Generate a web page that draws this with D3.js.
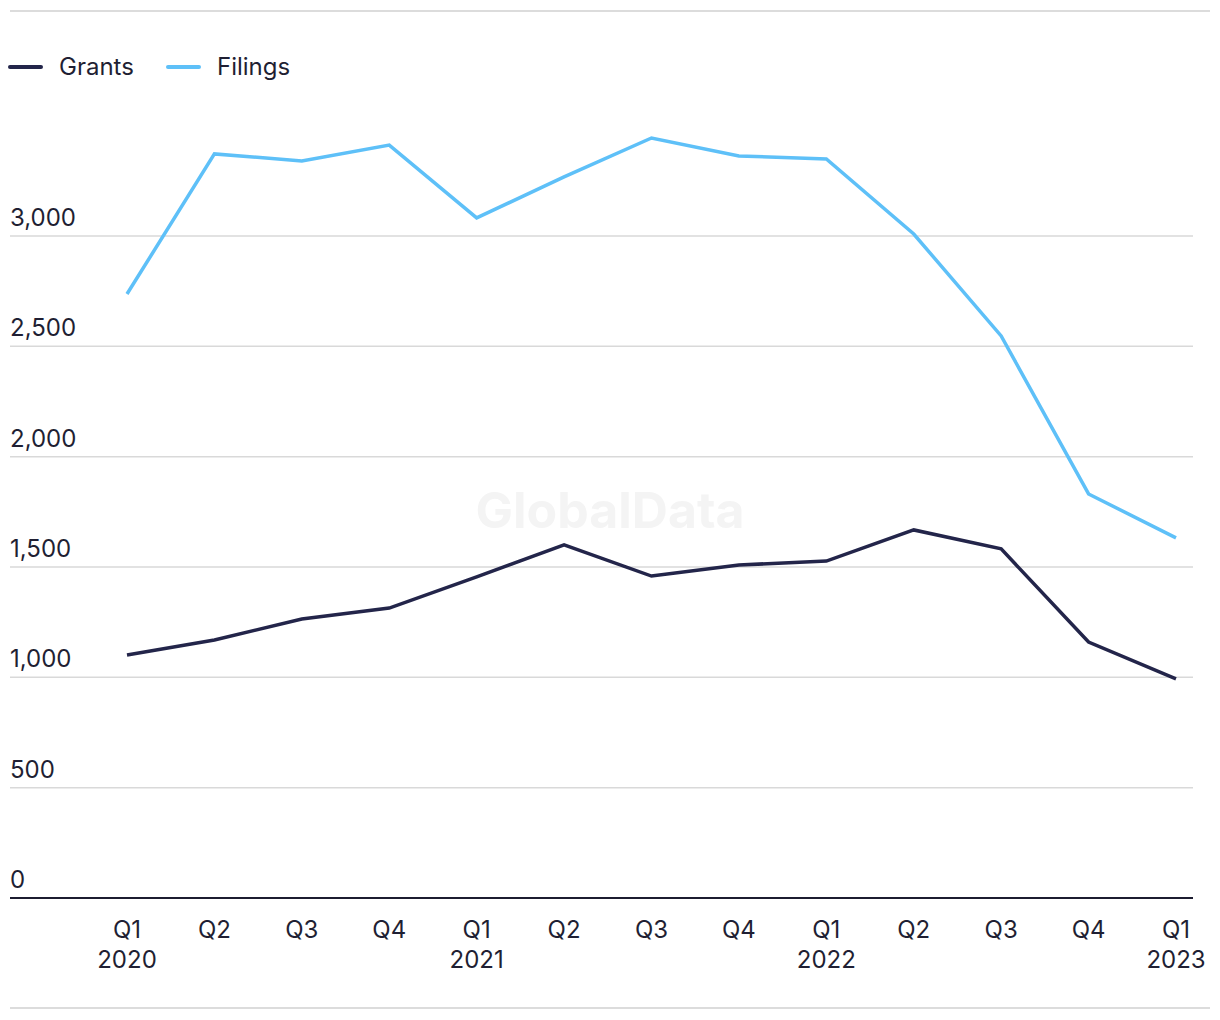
<!DOCTYPE html>
<html>
<head>
<meta charset="utf-8">
<script src="https://cdn.jsdelivr.net/npm/d3@7"></script>
<style>
  body { margin: 0; background: #fff; }
  text { font-family: "Inter", "Liberation Sans", sans-serif; fill: #1f1f33; }
</style>
</head>
<body>
<div id="chart"></div>
<script>
var quarters = ["Q1", "Q2", "Q3", "Q4", "Q1", "Q2", "Q3", "Q4", "Q1", "Q2", "Q3", "Q4", "Q1"],
    years = ["2020", "", "", "", "2021", "", "", "", "2022", "", "", "", "2023"],
    grants = [1101, 1169, 1264, 1314, 1455, 1600, 1459, 1509, 1527, 1668, 1582, 1160, 993],
    filings = [2737, 3372, 3340, 3412, 3082, 3268, 3444, 3363, 3349, 3009, 2547, 1831, 1632],
    yTicks = [0, 500, 1000, 1500, 2000, 2500, 3000];

var seriesNames = ["Grants", "Filings"],
    seriesColors = ["#23254a", "#5ec0f8"];

var width = 1220, height = 1020;

var svg = d3.select("#chart").append("svg")
    .attr("width", width)
    .attr("height", height);

//scales
var x = d3.scalePoint()
    .domain(d3.range(quarters.length))
    .range([127, 1176]);
var y = d3.scaleLinear()
    .domain([0, 3000])
    .range([898, 236]);

//top and bottom rules
svg.append("line").attr("x1", 10).attr("x2", 1210).attr("y1", 11).attr("y2", 11)
    .attr("stroke", "#dcdcdc").attr("stroke-width", 2);
svg.append("line").attr("x1", 10).attr("x2", 1210).attr("y1", 1008).attr("y2", 1008)
    .attr("stroke", "#dcdcdc").attr("stroke-width", 2);

//watermark
svg.append("text")
    .attr("x", 610).attr("y", 528)
    .attr("text-anchor", "middle")
    .style("font-size", "50px")
    .style("font-weight", "bold")
    .style("fill", "#f4f4f4")
    .text("GlobalData");

//y grid + labels
var yAxis = svg.append("g");
yAxis.selectAll(".grid")
    .data(yTicks.filter(function(d) { return d > 0; }))
    .enter().append("line")
    .attr("x1", 10).attr("x2", 1193)
    .attr("y1", function(d) { return y(d); })
    .attr("y2", function(d) { return y(d); })
    .attr("stroke", "#d9d9d9").attr("stroke-width", 1.5);
yAxis.selectAll(".lbl")
    .data(yTicks)
    .enter().append("text")
    .attr("x", 10)
    .attr("y", function(d) { return y(d) - 10; })
    .style("font-size", "24px")
    .text(function(d) { return d3.format(",")(d); });

//baseline
svg.append("line").attr("x1", 10).attr("x2", 1193).attr("y1", y(0)).attr("y2", y(0))
    .attr("stroke", "#1c1c30").attr("stroke-width", 2);

//x labels
var xl = svg.append("g").selectAll("g")
    .data(quarters)
    .enter().append("text")
    .attr("text-anchor", "middle")
    .style("font-size", "24px");
xl.append("tspan")
    .attr("x", function(d, i) { return x(i); })
    .attr("y", 938)
    .text(function(d) { return d; });
xl.append("tspan")
    .attr("x", function(d, i) { return x(i); })
    .attr("y", 968)
    .text(function(d, i) { return years[i]; });

//lines
var line = d3.line()
    .x(function(d, i) { return x(i); })
    .y(function(d) { return y(d); });

[grants, filings].forEach(function(s, k) {
    svg.append("path")
        .datum(s)
        .attr("d", line)
        .attr("fill", "none")
        .attr("stroke", seriesColors[k])
        .attr("stroke-width", 3.5)
        .attr("stroke-linejoin", "miter");
});

//legend
var legendX = [10, 168];
seriesNames.forEach(function(n, k) {
    svg.append("line")
        .attr("x1", legendX[k]).attr("x2", legendX[k] + 31)
        .attr("y1", 67).attr("y2", 67)
        .attr("stroke", seriesColors[k]).attr("stroke-width", 4)
        .attr("stroke-linecap", "round");
    svg.append("text")
        .attr("x", legendX[k] + 49).attr("y", 75)
        .style("font-size", "24px")
        .text(n);
});
</script>
</body>
</html>
